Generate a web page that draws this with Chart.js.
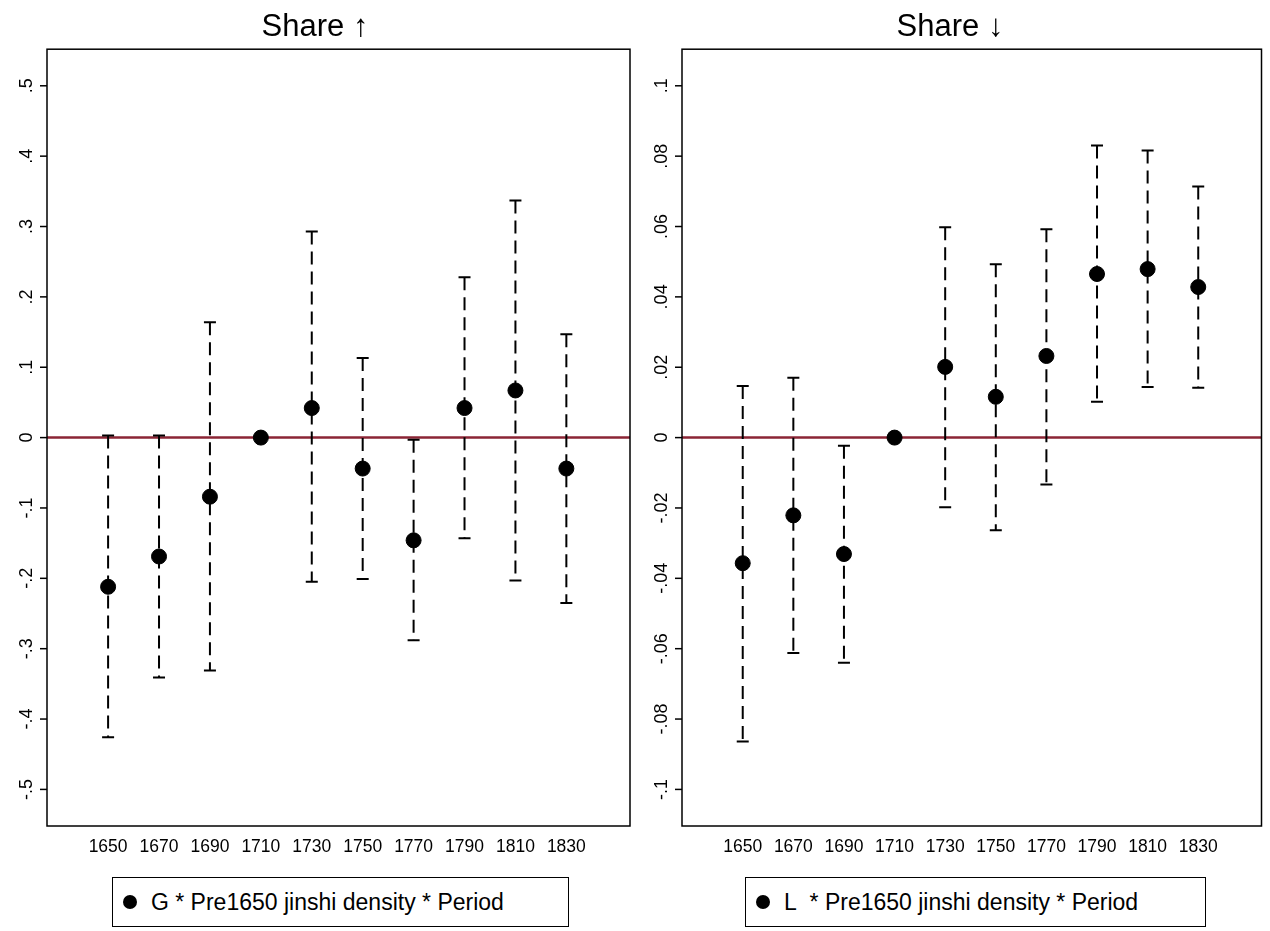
<!DOCTYPE html>
<html><head><meta charset="utf-8">
<script src="https://cdn.jsdelivr.net/npm/chart.js@4"></script>
<style>
body{margin:0;background:#fff;font-family:Arial,"Liberation Sans",sans-serif}
.panel{position:absolute;top:0;height:862px}
.leg{position:absolute;top:877px;height:50px;border:1px solid #000;box-sizing:border-box;font-size:23px;display:flex;align-items:center;padding-left:10px}
.leg span.d{display:inline-block;width:14px;height:14px;border-radius:50%;background:#000;margin-right:14px}
</style></head><body>
<div class="panel" style="left:0;width:640px"><canvas id="c1"></canvas></div>
<div class="panel" style="left:635px;width:635px"><canvas id="c2"></canvas></div>
<div class="leg" style="left:112px;width:457px"><span class="d"></span>G * Pre1650 jinshi density * Period</div>
<div class="leg" style="left:745px;width:461px"><span class="d"></span>L&nbsp; * Pre1650 jinshi density * Period</div>
<script>
const periods = [1650, 1670, 1690, 1710, 1730, 1750, 1770, 1790, 1810, 1830];

// left panel: Share up
const upEst = [-0.212, -0.169, -0.084, 0, 0.042, -0.044, -0.146, 0.042, 0.067, -0.044];
const upHi  = [0.003, 0.003, 0.164, 0, 0.293, 0.113, -0.003, 0.228, 0.337, 0.147];
const upLo  = [-0.426, -0.341, -0.331, 0, -0.205, -0.201, -0.288, -0.143, -0.203, -0.235];
const upTicks = [0.5, 0.4, 0.3, 0.2, 0.1, 0, -0.1, -0.2, -0.3, -0.4, -0.5];

// right panel: Share down
const dnEst = [-0.0357, -0.0221, -0.0331, 0, 0.0201, 0.0116, 0.0232, 0.0465, 0.0479, 0.0428];
const dnHi  = [0.0147, 0.017, -0.0023, 0, 0.0598, 0.0493, 0.0592, 0.083, 0.0816, 0.0714];
const dnLo  = [-0.0864, -0.0612, -0.064, 0, -0.0198, -0.0263, -0.0133, 0.0102, 0.0144, 0.0142];
const dnTicks = [0.1, 0.08, 0.06, 0.04, 0.02, 0, -0.02, -0.04, -0.06, -0.08, -0.1];

function fmt(v) {
  if (v === 0) return '0';
  let s = String(+v.toFixed(3));
  return s.replace('0.', '.');
}

const extras = {
  id: 'extras',
  beforeDatasetsDraw(chart, args, o) {
    const {ctx, chartArea: a, scales: {x, y}} = chart;
    ctx.save();
    // zero line
    ctx.strokeStyle = '#8b2535'; ctx.lineWidth = 2.5;
    const y0 = y.getPixelForValue(0);
    ctx.beginPath(); ctx.moveTo(a.left, y0); ctx.lineTo(a.right, y0); ctx.stroke();
    // error bars
    ctx.strokeStyle = '#000'; ctx.lineWidth = 2;
    o.hi.forEach((h, i) => {
      const px = x.getPixelForValue(periods[i]);
      const t = y.getPixelForValue(h), b = y.getPixelForValue(o.lo[i]);
      ctx.setLineDash([13, 7]);
      ctx.beginPath(); ctx.moveTo(px, t); ctx.lineTo(px, b); ctx.stroke();
      ctx.setLineDash([]);
      ctx.beginPath();
      ctx.moveTo(px - 6, t); ctx.lineTo(px + 6, t);
      ctx.moveTo(px - 6, b); ctx.lineTo(px + 6, b);
      ctx.stroke();
    });
    ctx.restore();
  },
  afterDraw(chart, args, o) {
    const {ctx, chartArea: a, scales: {y}} = chart;
    ctx.save();
    ctx.strokeStyle = '#000'; ctx.lineWidth = 1.5;
    ctx.strokeRect(a.left, a.top, a.right - a.left, a.bottom - a.top);
    ctx.fillStyle = '#000'; ctx.font = '18px Arial, "Liberation Sans"';
    ctx.textAlign = 'center'; ctx.textBaseline = 'middle';
    o.ticks.forEach(v => {
      const py = y.getPixelForValue(v);
      ctx.beginPath(); ctx.moveTo(a.left - 7, py); ctx.lineTo(a.left, py); ctx.stroke();
      ctx.save(); ctx.translate(a.left - 20, py); ctx.rotate(-Math.PI / 2);
      ctx.fillText(fmt(v), 0, 0); ctx.restore();
    });
    ctx.restore();
  }
};

function make(id, title, est, hi, lo, ticks, lim, padR) {
  new Chart(document.getElementById(id), {
    type: 'scatter',
    data: { datasets: [{ data: periods.map((p, i) => ({x: p, y: est[i]})),
      backgroundColor: '#000', borderColor: '#000', pointRadius: 7.5 }] },
    options: {
      responsive: false, animation: false,
      layout: { padding: { right: padR, top: 0 } },
      plugins: {
        legend: { display: false }, tooltip: { enabled: false },
        title: { display: true, text: title, color: '#000',
          font: { size: 31, family: 'Arial, "Liberation Sans"', weight: 'normal' },
          padding: { top: 9, bottom: 3 } },
        extras: { hi, lo, ticks }
      },
      scales: {
        x: { type: 'linear', min: 1626, max: 1855,
          afterBuildTicks: s => { s.ticks = periods.map(v => ({value: v})); },
          grid: { display: false, drawTicks: true, tickLength: 7, tickColor: '#000' },
          border: { display: false },
          ticks: { color: '#000', font: { size: 17.5, family: 'Arial' }, maxRotation: 0, autoSkip: false, padding: 4,
            callback: v => String(v) } },
        y: { min: -lim, max: lim,
          afterFit: s => { s.width = 47; },
          grid: { display: false }, border: { display: false },
          ticks: { display: false } }
      }
    },
    plugins: [extras]
  });
}
document.getElementById('c1').width = 640; document.getElementById('c1').height = 862;
document.getElementById('c2').width = 635; document.getElementById('c2').height = 862;
make('c1', 'Share \u2191', upEst, upHi, upLo, upTicks, 0.552, 10);
make('c2', 'Share \u2193', dnEst, dnHi, dnLo, dnTicks, 0.1104, 5);
</script>
</body></html>
